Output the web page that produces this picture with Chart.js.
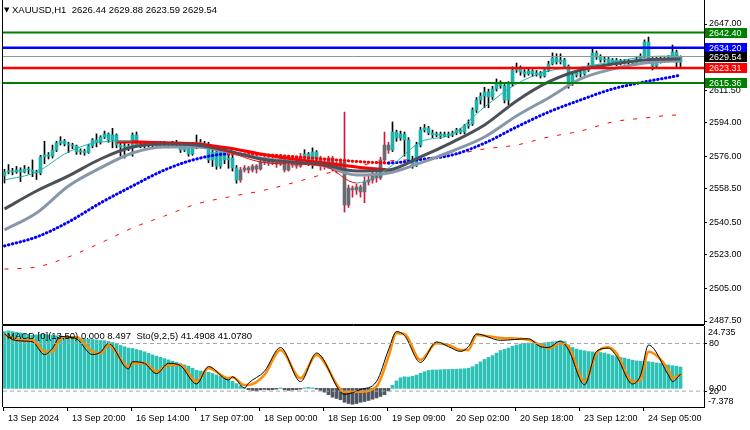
<!DOCTYPE html>
<html>
<head>
<meta charset="utf-8">
<title>XAUUSD H1</title>
<script src="https://cdn.jsdelivr.net/npm/chart.js@4.4.1/dist/chart.umd.min.js"></script>
<style>
  html, body { margin: 0; padding: 0; background: #fff; }
  #wrap { position: relative; width: 750px; height: 430px; overflow: hidden; font-family: "Liberation Sans", Arial, sans-serif; }
  #wrap canvas { position: absolute; left: 0; top: 0; }
  .caption { position: absolute; font-size: 9.5px; line-height: 11px; color: #000; white-space: pre; }
  .caption .arrow { font-family: "DejaVu Sans"; font-size: 7px; vertical-align: 1px; }
</style>
</head>
<body>
<div id="wrap">
  <canvas id="priceChart" width="750" height="430"></canvas>
  <canvas id="oscChart" width="750" height="430"></canvas>
  <div class="caption" style="left:4px; top:4px;"><span class="arrow">▼</span> XAUUSD,H1  2626.44 2629.88 2623.59 2629.54</div>
  <div class="caption" style="left:7px; top:330px;">MACD [0](13,50) 0.000 8.497  Sto(9,2,5) 41.4908 41.0780</div>
</div>
<script>
// ============================================================================
// Dades (llegides del gràfic)
// ============================================================================

// Espelmes H1: [open, high, low, close]
const candles = [
  [2565.4, 2569.0, 2561.6, 2567.5], [2567.5, 2571.5, 2566.5, 2568.1], [2568.1, 2569.5, 2566.0, 2567.5], [2567.5, 2570.5, 2566.8, 2568.6], [2568.6, 2569.8, 2562.3, 2567.5],
  [2567.5, 2571.0, 2567.0, 2569.1], [2569.1, 2570.2, 2566.5, 2568.6], [2568.6, 2574.0, 2565.0, 2567.5], [2567.5, 2568.5, 2563.5, 2567.0], [2567.0, 2576.5, 2566.0, 2575.6],
  [2575.6, 2584.0, 2572.0, 2576.7], [2576.7, 2578.0, 2574.5, 2576.1], [2576.1, 2582.0, 2575.0, 2579.3], [2579.3, 2584.0, 2578.5, 2583.1], [2583.1, 2586.5, 2582.0, 2584.2],
  [2584.2, 2585.0, 2581.5, 2582.6], [2582.6, 2583.5, 2578.0, 2582.0], [2582.0, 2583.0, 2580.0, 2581.5], [2581.5, 2582.0, 2577.0, 2578.3], [2578.3, 2580.0, 2577.0, 2578.8],
  [2578.8, 2579.8, 2576.5, 2578.0], [2578.0, 2582.5, 2577.5, 2581.5], [2581.5, 2585.5, 2580.5, 2584.7], [2584.7, 2588.0, 2581.0, 2583.6], [2583.6, 2587.0, 2582.5, 2586.3],
  [2586.3, 2589.5, 2585.5, 2587.9], [2587.9, 2588.5, 2583.5, 2584.7], [2584.7, 2591.0, 2580.5, 2587.4], [2587.4, 2588.0, 2580.5, 2582.0], [2582.0, 2584.0, 2576.0, 2580.9],
  [2580.9, 2583.0, 2575.0, 2581.5], [2581.5, 2582.5, 2579.0, 2580.4], [2580.4, 2588.5, 2576.0, 2587.4], [2587.4, 2589.0, 2581.0, 2582.0], [2582.0, 2583.5, 2580.5, 2581.5],
  [2581.5, 2584.0, 2580.5, 2583.1], [2583.1, 2584.0, 2581.0, 2582.0], [2582.0, 2583.5, 2581.0, 2582.6], [2582.6, 2583.5, 2580.5, 2581.5], [2581.5, 2584.0, 2580.5, 2583.1],
  [2583.1, 2584.0, 2581.5, 2582.6], [2582.6, 2583.5, 2580.5, 2582.0], [2582.0, 2584.0, 2581.5, 2583.1], [2583.1, 2584.5, 2581.5, 2582.6], [2582.6, 2583.0, 2578.0, 2579.3],
  [2579.3, 2582.0, 2578.5, 2580.9], [2580.9, 2581.5, 2576.0, 2577.2], [2577.2, 2582.0, 2576.5, 2580.9], [2580.9, 2587.4, 2580.0, 2583.6], [2583.6, 2585.0, 2581.0, 2582.0],
  [2582.0, 2584.0, 2581.0, 2582.6], [2582.6, 2583.5, 2572.5, 2574.0], [2574.0, 2580.0, 2570.5, 2578.3], [2578.3, 2579.0, 2569.0, 2570.7], [2570.7, 2580.5, 2569.5, 2579.3],
  [2579.3, 2580.0, 2572.0, 2574.0], [2574.0, 2577.5, 2569.5, 2575.0], [2575.0, 2576.5, 2568.0, 2569.7], [2569.7, 2571.0, 2561.5, 2563.2], [2563.2, 2570.0, 2562.0, 2568.6],
  [2568.6, 2571.0, 2567.5, 2569.7], [2569.7, 2570.5, 2567.0, 2568.6], [2568.6, 2571.5, 2567.5, 2570.7], [2570.7, 2571.5, 2567.0, 2569.1], [2569.1, 2574.0, 2568.5, 2572.9],
  [2572.9, 2576.0, 2571.5, 2575.0], [2575.0, 2576.0, 2571.0, 2572.4], [2572.4, 2575.5, 2571.5, 2574.0], [2574.0, 2574.5, 2570.0, 2571.8], [2571.8, 2577.0, 2571.0, 2575.6],
  [2575.6, 2576.5, 2567.5, 2568.6], [2568.6, 2572.5, 2568.0, 2571.3], [2571.3, 2573.5, 2570.0, 2572.4], [2572.4, 2573.0, 2569.5, 2570.7], [2570.7, 2577.5, 2570.0, 2575.6],
  [2575.6, 2579.5, 2574.5, 2577.2], [2577.2, 2578.0, 2571.0, 2574.0], [2574.0, 2580.5, 2569.5, 2578.3], [2578.3, 2579.0, 2571.0, 2575.0], [2575.0, 2576.0, 2568.5, 2572.9],
  [2572.9, 2574.0, 2569.0, 2570.7], [2570.7, 2576.0, 2569.5, 2575.0], [2575.0, 2576.0, 2568.0, 2571.3], [2571.3, 2573.0, 2567.0, 2568.6], [2568.6, 2574.5, 2567.5, 2572.9],
  [2572.9, 2599.7, 2546.0, 2549.8], [2549.8, 2560.5, 2548.5, 2558.9], [2558.9, 2560.0, 2554.0, 2557.9], [2557.9, 2561.0, 2555.5, 2559.5], [2559.5, 2560.5, 2554.0, 2556.8],
  [2556.8, 2565.0, 2551.0, 2562.2], [2562.2, 2566.0, 2560.5, 2563.2], [2563.2, 2567.5, 2561.5, 2565.4], [2565.4, 2569.0, 2562.0, 2564.3], [2564.3, 2575.5, 2563.5, 2574.0],
  [2574.0, 2589.0, 2572.5, 2582.0], [2582.0, 2583.5, 2577.5, 2579.3], [2579.3, 2594.4, 2578.5, 2589.0], [2589.0, 2590.0, 2584.0, 2585.8], [2585.8, 2589.5, 2584.5, 2587.9],
  [2587.9, 2589.0, 2576.0, 2584.7], [2584.7, 2586.0, 2572.5, 2574.0], [2574.0, 2576.0, 2569.5, 2571.3], [2571.3, 2583.5, 2570.5, 2582.0], [2582.0, 2591.5, 2581.0, 2590.1],
  [2590.1, 2593.0, 2589.0, 2591.2], [2591.2, 2592.0, 2587.5, 2588.5], [2588.5, 2590.0, 2586.0, 2587.4], [2587.4, 2589.0, 2586.5, 2587.9], [2587.9, 2589.0, 2585.5, 2586.9],
  [2586.9, 2589.0, 2586.5, 2587.9], [2587.9, 2589.0, 2586.0, 2587.4], [2587.4, 2589.5, 2586.5, 2588.5], [2588.5, 2591.0, 2587.5, 2590.1], [2590.1, 2591.0, 2588.0, 2589.0],
  [2589.0, 2593.0, 2588.0, 2592.2], [2592.2, 2595.5, 2591.0, 2593.3], [2593.3, 2602.0, 2592.5, 2600.8], [2600.8, 2607.5, 2599.5, 2606.2], [2606.2, 2610.0, 2604.0, 2608.3],
  [2608.3, 2613.0, 2602.0, 2610.5], [2610.5, 2612.0, 2602.0, 2607.8], [2607.8, 2613.5, 2606.5, 2612.1], [2612.1, 2617.5, 2611.0, 2614.8], [2614.8, 2616.5, 2612.5, 2613.7],
  [2613.7, 2614.5, 2604.6, 2606.2], [2606.2, 2616.0, 2603.5, 2614.8], [2614.8, 2624.0, 2613.5, 2622.3], [2622.3, 2626.0, 2621.0, 2623.4], [2623.4, 2624.5, 2619.5, 2621.2],
  [2621.2, 2622.5, 2618.5, 2620.2], [2620.2, 2623.0, 2619.5, 2621.8], [2621.8, 2622.5, 2619.0, 2620.2], [2620.2, 2622.0, 2619.0, 2620.7], [2620.7, 2621.5, 2618.0, 2619.1],
  [2619.1, 2623.5, 2618.5, 2622.3], [2622.3, 2627.0, 2621.5, 2625.5], [2625.5, 2631.5, 2625.0, 2628.7], [2628.7, 2631.0, 2625.5, 2626.6], [2626.6, 2631.0, 2625.5, 2627.7],
  [2627.7, 2628.5, 2623.0, 2624.4], [2624.4, 2625.0, 2612.5, 2615.9], [2615.9, 2620.5, 2614.0, 2619.6], [2619.6, 2622.0, 2618.5, 2620.7], [2620.7, 2621.5, 2618.5, 2620.2],
  [2620.2, 2623.5, 2619.5, 2622.3], [2622.3, 2626.0, 2621.5, 2624.4], [2624.4, 2634.1, 2623.5, 2631.4], [2631.4, 2632.5, 2628.0, 2629.3], [2629.3, 2630.5, 2626.5, 2627.7],
  [2627.7, 2629.5, 2626.5, 2628.2], [2628.2, 2629.0, 2625.5, 2626.6], [2626.6, 2628.5, 2625.5, 2627.7], [2627.7, 2628.5, 2624.5, 2626.1], [2626.1, 2628.0, 2625.0, 2627.1],
  [2627.1, 2628.0, 2625.5, 2626.6], [2626.6, 2628.0, 2625.5, 2627.1], [2627.1, 2627.5, 2625.0, 2626.1], [2626.1, 2629.5, 2625.5, 2627.7], [2627.7, 2631.0, 2627.0, 2629.8],
  [2629.8, 2638.5, 2629.0, 2637.3], [2637.3, 2640.0, 2627.5, 2628.2], [2628.2, 2629.0, 2622.3, 2624.4], [2624.4, 2629.0, 2623.5, 2628.2], [2628.2, 2629.5, 2626.0, 2627.1],
  [2627.1, 2629.0, 2626.5, 2628.2], [2628.2, 2630.0, 2627.0, 2628.7], [2628.7, 2635.7, 2627.5, 2632.0], [2632.0, 2633.0, 2623.9, 2626.44], [2626.44, 2629.88, 2623.59, 2629.54]
];

// Trams on l'indicador pinta les espelmes en gris (tendència baixista)
const greyRanges = [[59, 74], [79, 96]];

// Mitjanes mòbils, mostrejades cada 8 barres
const maBars = [0, 8, 16, 24, 32, 40, 48, 56, 64, 72, 80, 88, 96, 104, 112, 120, 128, 136, 144, 152, 160, 168, 169];
const maFast = [2563.2, 2567.5, 2578.3, 2583.6, 2584.2, 2583.6, 2583.1, 2578.3, 2572.9, 2571.8, 2570.7, 2561.6, 2569.7, 2583.6, 2587.9, 2602.4, 2614.8, 2621.8, 2623.9, 2626.6, 2629.3, 2629.8, 2629.3];
const maMid = [2547.7, 2557.3, 2565.4, 2574.5, 2580.9, 2582.6, 2582.0, 2578.8, 2574.5, 2572.9, 2571.3, 2568.1, 2568.6, 2575.6, 2583.6, 2592.8, 2605.7, 2615.9, 2622.3, 2625.5, 2627.7, 2628.2, 2628.2];
const maSlow = [2536.4, 2545.5, 2560.0, 2569.7, 2577.7, 2580.9, 2580.9, 2578.3, 2575.0, 2572.9, 2570.7, 2565.9, 2567.0, 2572.4, 2578.8, 2586.3, 2597.6, 2607.3, 2617.5, 2622.8, 2626.1, 2627.1, 2627.1];
const ma100 = [2527.8, 2532.6, 2540.7, 2550.9, 2560.0, 2568.6, 2574.5, 2577.2, 2576.9, 2575.8, 2574.5, 2573.2, 2572.4, 2574.2, 2576.7, 2583.0, 2591.7, 2599.7, 2606.2, 2612.1, 2615.9, 2619.1, 2619.6];
const ma200 = [2515.4, 2516.5, 2521.9, 2529.4, 2537.5, 2543.9, 2550.3, 2554.1, 2557.3, 2561.6, 2566.5, 2570.7, 2573.4, 2574.5, 2576.7, 2579.9, 2582.0, 2586.3, 2589.5, 2594.4, 2596.5, 2598.1, 2598.1];

// Mitjana que només es dibuixa quan baixa (línia vermella gruixuda)
const redBars = [28, 32, 40, 48, 56, 64, 72, 80, 88, 96];
const maRed = [2583.6, 2583.6, 2583.1, 2582.6, 2580.4, 2577.2, 2574.5, 2572.4, 2570.2, 2568.6];

// Nivells horitzontals i preu actual
const levelPrices = [2642.40, 2634.20, 2629.54, 2623.31, 2615.36];

// Eix de preus
const priceTicks = [2647.00, 2629.50, 2611.50, 2594.00, 2576.00, 2558.50, 2540.50, 2523.00, 2505.00, 2487.50];

// Eix de temps
const timeTickBars = [0, 16, 32, 48, 64, 80, 96, 112, 128, 144, 160];
const timeLabels = ['13 Sep 2024', '13 Sep 20:00', '16 Sep 14:00', '17 Sep 07:00', '18 Sep 00:00', '18 Sep 16:00',
                    '19 Sep 09:00', '20 Sep 02:00', '20 Sep 18:00', '23 Sep 12:00', '24 Sep 05:00'];

// MACD (histograma), una barra per espelma
const macdHist = [
  22.5, 22.8, 22.5, 22.3, 22.0, 21.6, 21.3, 21.0, 21.2, 21.5,
  21.5, 21.2, 21.0, 20.9, 20.7, 20.5, 20.4, 20.2, 20.0, 19.8,
  19.6, 19.5, 19.4, 19.2, 19.0, 18.9, 18.6, 18.2, 17.6, 17.0,
  16.5, 16.0, 15.8, 15.4, 15.0, 14.5, 13.9, 13.3, 12.8, 12.3,
  11.8, 11.3, 10.8, 10.3, 9.8, 9.3, 8.8, 8.0, 7.2, 6.9,
  6.8, 6.4, 5.9, 5.3, 4.8, 4.4, 3.8, 2.8, 1.9, 1.0,
  0.3, -0.5, -0.8, -1.0, -0.6, -0.4, -0.6, -0.5, -0.3, 0.2,
  -0.5, -0.8, -0.6, -0.5, -0.3, 0.2, 0.4, 0.2, -0.3, -0.8,
  -1.5, -2.5, -3.5, -4.0, -4.5, -5.5, -6.0, -6.3, -6.0, -5.5,
  -5.2, -4.8, -4.3, -3.8, -3.2, -2.5, -1.0, 1.2, 3.0, 4.2,
  4.6, 4.5, 4.8, 5.3, 6.0, 6.6, 7.1, 7.3, 7.3, 7.4,
  7.5, 7.5, 7.6, 7.6, 7.7, 7.8, 8.0, 8.6, 9.5, 10.5,
  11.5, 12.3, 13.0, 14.0, 15.0, 15.5, 16.0, 16.7, 17.2, 17.6,
  17.9, 18.0, 18.0, 17.8, 17.9, 18.1, 18.3, 18.5, 18.6, 18.8,
  18.6, 17.2, 16.2, 15.6, 15.2, 14.9, 14.6, 14.5, 14.4, 14.2,
  14.0, 13.6, 13.0, 12.6, 12.3, 12.0, 11.6, 11.2, 10.9, 10.8,
  10.8, 10.6, 10.4, 10.1, 9.9, 9.6, 9.3, 9.0, 8.8, 8.497
];
const macdMax = 24.735;
const macdMin = -7.378;

// Estocàstic (9,2,5)
const stochBars = [0, 2, 5, 7, 10, 12, 14, 16, 18, 22, 24, 26, 31, 32, 35, 38, 41, 44, 48, 51, 56, 57, 60, 61, 65, 69, 74, 78,
                   85, 89, 93, 96, 98, 100, 104, 108, 111, 114, 116, 118, 124, 131, 134, 136, 139, 141, 145, 148, 151, 153, 157, 159, 161, 166, 167, 169];
const stochMain = [92, 85, 83, 82, 66, 74, 89, 88, 86, 66, 69, 80, 48, 57, 55, 42, 55, 52, 29, 51, 34, 38, 24, 30, 45, 75, 32, 68,
                   16, 22, 32, 72, 95, 90, 56, 82, 76, 70, 76, 92, 84, 86, 76, 75, 83, 72, 28, 70, 74, 64, 29, 40, 78, 40, 32, 41.4908];
const stochSignal = [90.8, 86.6, 83.7, 84.5, 69.7, 69.7, 86.6, 87.9, 87.9, 69.7, 67.7, 78.2, 50.8, 55.1, 55.1, 44.5, 53.0, 53.0, 31.9, 48.7, 36.2, 37.5, 27.7, 27.7, 40.4, 71.9, 36.2, 65.6,
                     19.3, 19.3, 25.6, 63.4, 92.9, 92.0, 59.3, 80.3, 78.2, 71.9, 71.9, 90.8, 87.0, 84.5, 78.2, 74.0, 80.3, 76.1, 31.9, 67.7, 75.3, 67.7, 31.9, 34.0, 69.7, 46.7, 36.2, 41.0780];
const stochLevels = [80, 20];

// ============================================================================
// Estils i escales
// ============================================================================

const X_MIN = -0.375;
const X_MAX = 174.875;
const PRICE_MIN = 2485.89;
const PRICE_MAX = 2659.89;

const TEAL = '#20b2aa';
const GREY_BODY = '#686b71';
const CRIMSON = '#dc143c';
const levelLineColors = ['#008000', '#0000ff', '#8a96a3', '#ff0000', '#008000'];
const levelLineWidths = [2, 2.5, 1, 2.5, 2];
const levelTagColors = ['#008000', '#0000ff', '#000000', '#ff0000', '#008000'];
const FONT = '9px "Liberation Sans", Arial, sans-serif';

Chart.defaults.font.family = '"Liberation Sans", Arial, sans-serif';
Chart.defaults.font.size = 9;
Chart.defaults.color = '#000';

const isGrey = i => greyRanges.some(([a, b]) => i >= a && i <= b);
const toPoints = (bars, vals) => bars.map((b, k) => ({ x: b, y: vals[k] }));

const lineBase = { type: 'line', pointRadius: 0, fill: false, cubicInterpolationMode: 'monotone' };

// ============================================================================
// Gràfic de preus
// ============================================================================

const priceFrame = {
    id: 'priceFrame',
    afterDraw(chart) {
        const { ctx, chartArea: a, scales: { y } } = chart;
        ctx.save();
        ctx.strokeStyle = '#000';
        ctx.lineWidth = 1;
        ctx.beginPath();
        ctx.moveTo(a.left - 0.5, 0);
        ctx.lineTo(a.left - 0.5, a.bottom + 0.5);
        ctx.lineTo(a.right, a.bottom + 0.5);
        ctx.stroke();

        // etiquetes de colors dels nivells
        ctx.font = FONT;
        ctx.textBaseline = 'middle';
        ctx.textAlign = 'left';
        levelPrices.forEach((p, k) => {
            const py = Math.round(y.getPixelForValue(p));
            ctx.fillStyle = levelTagColors[k];
            ctx.fillRect(a.right + 1, py - 5, 42, 10);
            ctx.fillStyle = '#fff';
            ctx.fillText(p.toFixed(2), a.right + 5, py + 0.5);
        });
        ctx.restore();
    }
};

const levelDatasets = levelPrices.map((p, k) => ({
    ...lineBase,
    data: [{ x: X_MIN, y: p }, { x: X_MAX, y: p }],
    borderColor: levelLineColors[k],
    borderWidth: levelLineWidths[k],
    order: -1
}));

new Chart(document.getElementById('priceChart'), {
    type: 'bar',
    data: {
        datasets: [
            ...levelDatasets,
            {
                ...lineBase,
                data: toPoints(maBars, maFast),
                borderWidth: 1,
                borderColor: TEAL,
                segment: { borderColor: c => c.p1.parsed.y < c.p0.parsed.y ? '#ff0000' : TEAL },
                order: 0
            },
            { ...lineBase, data: toPoints(maBars, maMid), borderColor: '#4b5059', borderWidth: 3, order: 0 },
            { ...lineBase, data: toPoints(maBars, maSlow), borderColor: '#8796a8', borderWidth: 3, order: 0 },
            { ...lineBase, data: toPoints(redBars, maRed), borderColor: '#ff0000', borderWidth: 3, order: 0 },
            {
                ...lineBase,
                data: toPoints(maBars, ma100),
                borderColor: '#0000ff',
                borderWidth: 3,
                borderCapStyle: 'round',
                borderDash: [0.5, 3.5],
                segment: { borderColor: c => c.p1.parsed.y < c.p0.parsed.y ? '#ff0000' : '#0000ff' },
                order: 0
            },
            { ...lineBase, data: toPoints(maBars, ma200), borderColor: '#ff0000', borderWidth: 1, borderDash: [4, 9], order: 0 },
            {
                // cossos de les espelmes
                type: 'bar',
                data: candles.map((c, i) => ({ x: i, y: [Math.min(c[0], c[3]), Math.max(c[0], c[3])] })),
                backgroundColor: ctx => isGrey(ctx.dataIndex) ? GREY_BODY : TEAL,
                barThickness: 3,
                minBarLength: 1,
                grouped: false,
                order: 1
            },
            {
                // metxes
                type: 'bar',
                data: candles.map((c, i) => ({ x: i, y: [c[2], c[1]] })),
                backgroundColor: ctx => isGrey(ctx.dataIndex) ? CRIMSON : '#000',
                barThickness: 1,
                grouped: false,
                order: 2
            }
        ]
    },
    options: {
        responsive: false,
        animation: false,
        events: [],
        layout: { padding: { left: 3, top: 0, right: 0, bottom: 106 } },
        plugins: { legend: { display: false }, tooltip: { enabled: false } },
        scales: {
            x: { type: 'linear', min: X_MIN, max: X_MAX, offset: false, display: false, grid: { offset: false } },
            y: {
                position: 'right',
                min: PRICE_MIN,
                max: PRICE_MAX,
                afterBuildTicks: s => { s.ticks = priceTicks.map(v => ({ value: v })); },
                afterFit: s => { s.width = 46; s.paddingTop = 0; s.paddingBottom = 0; },
                ticks: { padding: 2, autoSkip: false, font: { size: 9 }, callback: v => v.toFixed(2) },
                grid: { drawOnChartArea: false, tickLength: 3, color: '#000' },
                border: { color: '#000' }
            }
        }
    },
    plugins: [priceFrame]
});

// ============================================================================
// Finestra inferior: MACD + estocàstic
// ============================================================================

const oscFrame = {
    id: 'oscFrame',
    afterDraw(chart) {
        const { ctx, chartArea: a, scales: { yMacd } } = chart;
        ctx.save();
        ctx.strokeStyle = '#000';
        ctx.lineWidth = 1;
        ctx.beginPath();
        ctx.moveTo(a.left - 0.5, a.bottom);
        ctx.lineTo(a.left - 0.5, a.top - 0.5);
        ctx.lineTo(a.right, a.top - 0.5);
        ctx.stroke();

        ctx.font = FONT;
        ctx.fillStyle = '#000';
        ctx.textBaseline = 'middle';
        ctx.textAlign = 'left';
        ctx.fillText(macdMax.toFixed(3), a.right + 4, a.top + 7);
        ctx.fillText((0).toFixed(2), a.right + 5, Math.round(yMacd.getPixelForValue(0)) + 1);
        ctx.fillText(macdMin.toFixed(3), a.right + 4, a.bottom - 5);
        ctx.restore();
    }
};

new Chart(document.getElementById('oscChart'), {
    type: 'bar',
    data: {
        datasets: [
            ...stochLevels.map(v => ({
                ...lineBase,
                yAxisID: 'yStoch',
                data: [{ x: X_MIN, y: v }, { x: X_MAX, y: v }],
                borderColor: '#a6a6a6',
                borderWidth: 1,
                borderDash: [4, 3],
                order: -1
            })),
            { ...lineBase, yAxisID: 'yStoch', data: toPoints(stochBars, stochMain), borderColor: '#000', borderWidth: 1, order: 0 },
            { ...lineBase, yAxisID: 'yStoch', data: toPoints(stochBars, stochSignal), borderColor: '#ff8c00', borderWidth: 2.5, order: 0 },
            {
                type: 'bar',
                yAxisID: 'yMacd',
                data: macdHist.map((v, i) => ({ x: i, y: v })),
                backgroundColor: ctx => (ctx.raw && ctx.raw.y < 0) ? '#4f5663' : '#2ec2b6',
                barThickness: 3,
                grouped: false,
                order: 1
            }
        ]
    },
    options: {
        responsive: false,
        animation: false,
        events: [],
        layout: { padding: { left: 3, top: 326, right: 0, bottom: 0 } },
        plugins: { legend: { display: false }, tooltip: { enabled: false } },
        scales: {
            x: {
                type: 'linear',
                min: X_MIN,
                max: X_MAX,
                offset: false,
                afterBuildTicks: s => { s.ticks = timeTickBars.map(b => ({ value: b - 0.375 })); },
                afterFit: s => { s.height = 23; s.paddingLeft = 0; s.paddingRight = 0; },
                ticks: {
                    autoSkip: false, maxRotation: 0, minRotation: 0, align: 'start', labelOffset: 5, padding: 2,
                    font: { size: 9 },
                    callback: (v, i) => timeLabels[i]
                },
                grid: { drawOnChartArea: false, offset: false, tickLength: 4, color: '#000' },
                border: { color: '#000' }
            },
            yMacd: { position: 'right', min: macdMin, max: macdMax, display: false },
            yStoch: {
                position: 'right',
                min: 0,
                max: 102,
                afterBuildTicks: s => { s.ticks = stochLevels.map(v => ({ value: v })); },
                afterFit: s => { s.width = 46; s.paddingTop = 0; s.paddingBottom = 0; },
                ticks: { padding: 2, autoSkip: false, font: { size: 9 }, callback: v => String(v) },
                grid: { drawOnChartArea: false, tickLength: 3, color: '#000' },
                border: { color: '#000' }
            }
        }
    },
    plugins: [oscFrame]
});
</script>
</body>
</html>
